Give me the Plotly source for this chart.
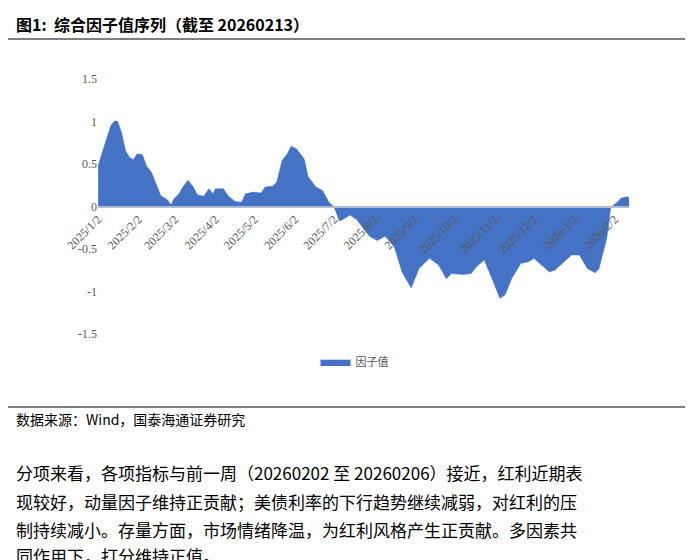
import plotly.graph_objects as go

dates = ["2025-01-02","2025-01-06","2025-01-09","2025-01-12","2025-01-15","2025-01-17","2025-01-20","2025-01-23","2025-01-26","2025-01-29",
"2025-02-01","2025-02-05","2025-02-08","2025-02-12","2025-02-15","2025-02-19","2025-02-24","2025-02-27","2025-03-01","2025-03-05",
"2025-03-08","2025-03-12","2025-03-16","2025-03-19","2025-03-24","2025-03-28","2025-03-31","2025-04-02","2025-04-08","2025-04-12",
"2025-04-17","2025-04-22","2025-04-25","2025-05-01","2025-05-07","2025-05-10","2025-05-16","2025-05-19","2025-05-23","2025-05-27",
"2025-05-30","2025-06-03","2025-06-09","2025-06-12","2025-06-18","2025-06-23","2025-06-28","2025-07-02","2025-07-06","2025-07-10",
"2025-07-14","2025-07-19","2025-07-23","2025-07-29","2025-08-04","2025-08-10","2025-08-17","2025-08-23","2025-08-30","2025-09-05",
"2025-09-13","2025-09-20","2025-09-26","2025-09-30","2025-10-09","2025-10-15","2025-10-19","2025-10-25","2025-10-31","2025-11-06",
"2025-11-10","2025-11-15","2025-11-22","2025-11-28","2025-12-02","2025-12-08","2025-12-14","2025-12-18","2025-12-24","2025-12-31",
"2026-01-06","2026-01-12","2026-01-18","2026-01-21","2026-01-27","2026-01-30","2026-02-04","2026-02-07","2026-02-12","2026-02-13"]
values = [0.48,0.66,0.82,0.96,1.01,1.0,0.87,0.66,0.58,0.55,
0.62,0.61,0.48,0.40,0.29,0.13,0.08,0.02,0.09,0.15,
0.23,0.31,0.23,0.14,0.12,0.21,0.15,0.21,0.21,0.12,
0.06,0.05,0.15,0.17,0.16,0.23,0.24,0.29,0.54,0.62,
0.71,0.68,0.56,0.35,0.23,0.19,0.05,-0.01,-0.17,-0.14,
-0.10,-0.15,-0.23,-0.35,-0.40,-0.35,-0.47,-0.77,-0.96,-0.73,
-0.61,-0.69,-0.85,-0.79,-0.80,-0.79,-0.71,-0.63,-0.85,-1.08,
-1.04,-0.85,-0.67,-0.65,-0.61,-0.69,-0.77,-0.75,-0.67,-0.57,
-0.57,-0.73,-0.78,-0.73,-0.37,-0.01,0.05,0.10,0.115,0.10]
tick_vals = ["2025-01-02","2025-02-02","2025-03-02","2025-04-02","2025-05-02","2025-06-02","2025-07-02",
"2025-08-02","2025-09-02","2025-10-02","2025-11-02","2025-12-02","2026-01-02","2026-02-02"]
tick_text = ["2025/1/2","2025/2/2","2025/3/2","2025/4/2","2025/5/2","2025/6/2","2025/7/2",
"2025/8/2","2025/9/2","2025/10/2","2025/11/2","2025/12/2","2026/1/2","2026/2/2"]
y_ticks = [1.5,1,0.5,0,-0.5,-1,-1.5]

CJK = "Noto Sans CJK SC"
fig = go.Figure(go.Scatter(x=dates, y=values, mode="lines", fill="tozeroy",
    line=dict(color="#4472C4", width=0.5), fillcolor="#4472C4", name="因子值", showlegend=True))

fig.update_layout(width=693, height=560, margin=dict(l=0, r=0, t=0, b=0, autoexpand=False),
    paper_bgcolor="white", plot_bgcolor="white",
    legend=dict(x=0.5, y=0.368, xanchor="center", yanchor="middle", orientation="h",
                font=dict(family=CJK, size=11, color="#595959")),
    xaxis=dict(domain=[0.13, 0.898], type="date", range=["2025-01-02","2026-02-14"], automargin=False,
               tickvals=tick_vals, ticktext=tick_text, tickangle=-45,
               anchor="free", position=0.6455, showline=True, linecolor="#BFBFBF",
               showgrid=False, ticks="", tickfont=dict(family="Liberation Serif", size=12, color="#595959")),
    yaxis=dict(domain=[0.418, 0.873], range=[-1.5, 1.5], tickvals=y_ticks, automargin=False,
               ticktext=[str(v) for v in y_ticks], showgrid=False, zeroline=False, showline=False,
               tickfont=dict(family="Liberation Serif", size=12, color="#595959")),
)

def ann(text, x, y, size, bold=False, color="black"):
    fig.add_annotation(text=f"<b>{text}</b>" if bold else text, x=x, y=1 - y/560, xref="paper", yref="paper",
                       xanchor="left", yanchor="middle", showarrow=False,
                       font=dict(family=CJK, size=size, color=color))

ann("图1:  综合因子值序列（截至 20260213）", 0.008, 16, 16, bold=True)
fig.add_shape(type="line", xref="paper", yref="paper", x0=0, x1=0.99, y0=1-31/560, y1=1-31/560, line=dict(color="black", width=1))
fig.add_shape(type="line", xref="paper", yref="paper", x0=0, x1=0.99, y0=1-399/560, y1=1-399/560, line=dict(color="black", width=1))
ann("数据来源：Wind，国泰海通证券研究", 0.008, 411, 14)
ann("分项来看，各项指标与前一周（20260202 至 20260206）接近，红利近期表", 0.008, 464, 17)
ann("现较好，动量因子维持正贡献；美债利率的下行趋势继续减弱，对红利的压", 0.008, 493, 17)
ann("制持续减小。存量方面，市场情绪降温，为红利风格产生正贡献。多因素共", 0.008, 521, 17)
ann("同作用下，打分维持正值。", 0.008, 547, 17)

fig.write_html("out.html")
